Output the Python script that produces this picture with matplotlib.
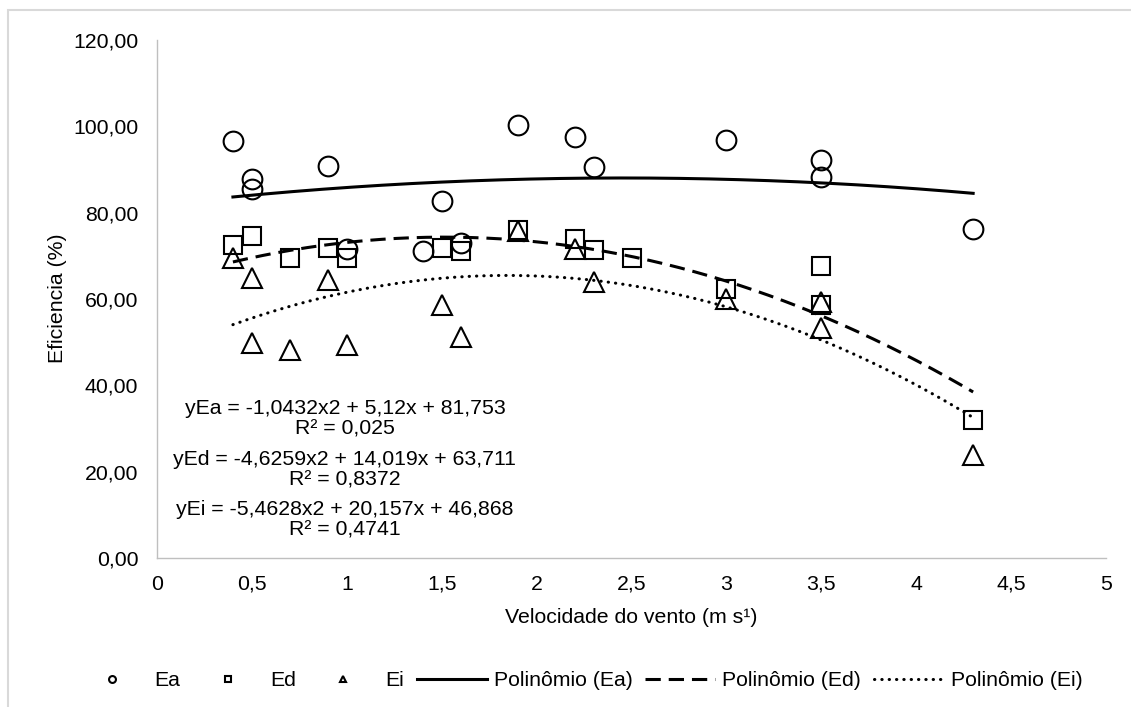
import matplotlib
matplotlib.use("Agg")
import matplotlib.pyplot as plt
import numpy as np
from matplotlib.patches import Rectangle
from matplotlib.ticker import FuncFormatter, MultipleLocator

plt.rcParams["font.family"] = ["Liberation Sans", "DejaVu Sans"]
plt.rcParams["font.size"] = 15.3

# data
ea_x = [0.4, 0.5, 0.5, 0.9, 1.0, 1.4, 1.5, 1.6, 1.9, 2.2, 2.3, 3.0, 3.5, 3.5, 4.3]
ea_y = [96.6, 87.9, 85.4, 90.8, 71.6, 71.1, 82.6, 72.9, 100.2, 97.6, 90.6, 96.8, 92.3, 88.2, 76.3]

ed_x = [0.4, 0.5, 0.7, 0.9, 1.0, 1.5, 1.6, 1.9, 2.2, 2.3, 2.5, 3.0, 3.5, 3.5, 4.3]
ed_y = [72.5, 74.7, 69.4, 71.9, 69.5, 71.7, 71.1, 75.9, 73.9, 71.3, 69.5, 62.3, 67.7, 58.6, 31.9]

ei_x = [0.4, 0.5, 0.5, 0.7, 0.9, 1.0, 1.5, 1.6, 1.9, 2.2, 2.3, 3.0, 3.5, 3.5, 4.3]
ei_y = [69.4, 64.9, 49.7, 48.3, 64.5, 49.3, 58.7, 51.3, 75.7, 71.5, 64.0, 59.9, 59.2, 53.3, 23.9]

# trendline coefficients as printed on the chart (a, b, c)
coef_ea = [-1.0432, 5.12, 81.753]
coef_ed = [-4.6259, 14.019, 63.711]
coef_ei = [-5.4628, 20.157, 46.868]

eq_labels = [
    "yEa = -1,0432x2 + 5,12x + 81,753\nR² = 0,025",
    "yEd = -4,6259x2 + 14,019x + 63,711\nR² = 0,8372",
    "yEi = -5,4628x2 + 20,157x + 46,868\nR² = 0,4741",
]
eq_pos_y = [32.2, 20.4, 8.8]

fig = plt.figure(figsize=(11.31, 7.07), dpi=100)
ax = fig.add_axes([157 / 1131, 1 - 558 / 707, 949 / 1131, 518 / 707])

# outer chart frame (cut off at the right and bottom in the reference)
fig.patches.append(Rectangle((7.5 / 1131, -1.0), 2.0, 1 + (1 - 10 / 707), transform=fig.transFigure,
                             fill=False, edgecolor="#d9d9d9", linewidth=1.5))

ms = 14.2
mew = 1.5
ax.plot(ea_x, ea_y, linestyle="none", marker="o", ms=ms, mew=mew, mfc="none", mec="black", label="Ea")
ax.plot(ed_x, ed_y, linestyle="none", marker="s", ms=ms - 0.6, mew=mew, mfc="none", mec="black", label="Ed")
ax.plot(ei_x, ei_y, linestyle="none", marker="^", ms=ms, mew=mew, mfc="none", mec="black", label="Ei")

lw = 2.2
for xs, coef, style, name in [
    (ea_x, coef_ea, "-", "Polinômio (Ea)"),
    (ed_x, coef_ed, (0, (5, 2.6)), "Polinômio (Ed)"),
    (ei_x, coef_ei, (0, (0.1, 2.3)), "Polinômio (Ei)"),
]:
    xx = np.linspace(min(xs), max(xs), 200)
    ax.plot(xx, np.polyval(coef, xx), color="black", lw=lw, linestyle=style,
            dash_capstyle="round" if name.endswith("(Ei)") else "butt", label=name)

for txt, yy in zip(eq_labels, eq_pos_y):
    ax.text(0.99, yy, txt, ha="center", va="center", multialignment="center", linespacing=1.1)

ax.set_xlim(0, 5)
ax.set_ylim(0, 120)
ax.xaxis.set_major_locator(MultipleLocator(0.5))
ax.yaxis.set_major_locator(MultipleLocator(20))
ax.xaxis.set_major_formatter(FuncFormatter(lambda v, p: (f"{v:g}").replace(".", ",")))
ax.yaxis.set_major_formatter(FuncFormatter(lambda v, p: f"{v:.2f}".replace(".", ",")))
ax.tick_params(length=0)
ax.tick_params(axis="x", pad=12)
ax.tick_params(axis="y", pad=13.5)
for s in ["top", "right"]:
    ax.spines[s].set_visible(False)
for s in ["left", "bottom"]:
    ax.spines[s].set_color("#bfbfbf")
    ax.spines[s].set_linewidth(1.0)

ax.set_xlabel("Velocidade do vento (m s¹)")
ax.xaxis.set_label_coords(0.5, -0.114)
ax.xaxis.label.set_va("center")
ax.set_ylabel("Eficiencia (%)")
ax.yaxis.set_label_coords(-0.105, 0.502)
ax.yaxis.label.set_va("center")

fig.legend(loc="center", bbox_to_anchor=(580 / 1131, 1 - 681 / 707), ncol=6, frameon=False,
           handlelength=3.29, handletextpad=0.33, columnspacing=0.6, markerscale=0.35,
           borderpad=0, borderaxespad=0)

fig.savefig("out.png", dpi=100)
